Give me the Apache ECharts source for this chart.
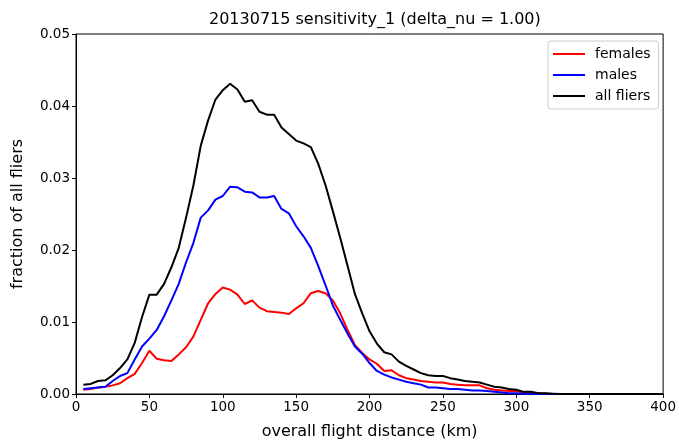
<!DOCTYPE html>
<html lang="en">
<head>
<meta charset="UTF-8">
<title>20130715 sensitivity_1</title>
<script src="https://cdn.jsdelivr.net/npm/echarts@6/dist/echarts.min.js"></script>
<style>
  html, body { margin: 0; padding: 0; background: #fff; }
  #chart { width: 679px; height: 445px; }
</style>
</head>
<body>
<div id="chart"></div>
<script>
// flight distance bins (km)
var distances = [5, 10, 15, 20, 25, 30, 35, 40, 45, 50, 55, 60, 65, 70, 75, 80,
  85, 90, 95, 100, 105, 110, 115, 120, 125, 130, 135, 140, 145, 150, 155, 160,
  165, 170, 175, 180, 185, 190, 195, 200, 205, 210, 215, 220, 225, 230, 235, 240,
  245, 250, 255, 260, 265, 270, 275, 280, 285, 290, 295, 300, 305, 310, 315, 320,
  325, 330, 335, 340, 345, 350, 355, 360, 365, 370, 375, 380, 385, 390, 395, 400];

var females = [0.0006, 0.0007, 0.0009, 0.0010, 0.0012, 0.0015, 0.0022, 0.0028,
  0.0043, 0.0060, 0.0049, 0.0047, 0.0046, 0.0055, 0.0065, 0.0080,
  0.0103, 0.0126, 0.0139, 0.0148, 0.0145, 0.0138, 0.0125, 0.0130,
  0.0120, 0.0115, 0.0114, 0.0113, 0.0111, 0.0119, 0.0126, 0.0140,
  0.0143, 0.0140, 0.0130, 0.0112, 0.0089, 0.0068, 0.0057, 0.0048,
  0.0042, 0.0032, 0.0033, 0.0026, 0.0022, 0.0020, 0.0018, 0.0017,
  0.0016, 0.0016, 0.0014, 0.0013, 0.0012, 0.0012, 0.0012, 0.0008,
  0.0006, 0.0005, 0.0004, 0.0004, 0.0002, 0.0001, 0.0001, 0.00005,
  0, 0, 0, 0, 0, 0, 0, 0, 0, 0, 0, 0, 0, 0, 0, 0];

var males = [0.0007, 0.0008, 0.0009, 0.0010, 0.0018, 0.0025, 0.0029, 0.0048,
  0.0066, 0.0077, 0.0089, 0.0108, 0.0130, 0.0153, 0.0183, 0.0210,
  0.0245, 0.0255, 0.0270, 0.0275, 0.0288, 0.0287, 0.0281, 0.0280,
  0.0273, 0.0273, 0.0275, 0.0257, 0.0251, 0.0233, 0.0219, 0.0203,
  0.0178, 0.0151, 0.0123, 0.0103, 0.0084, 0.0066, 0.0056, 0.0043,
  0.0032, 0.0027, 0.0023, 0.0020, 0.0017, 0.0015, 0.0013, 0.0009,
  0.0009, 0.0008, 0.0007, 0.0007, 0.0006, 0.0005, 0.0005, 0.0004,
  0.0003, 0.0002, 0.0001, 0.0001, 0.00005, 0, 0, 0,
  0, 0, 0, 0, 0, 0, 0, 0, 0, 0, 0, 0, 0, 0, 0, 0];

var allFliers = [0.0013, 0.0014, 0.0018, 0.0019, 0.0026, 0.0036, 0.0048, 0.0071,
  0.0107, 0.0138, 0.0138, 0.0153, 0.0176, 0.0203, 0.0245, 0.0290,
  0.0345, 0.0380, 0.0409, 0.0422, 0.0431, 0.0423, 0.0406, 0.0408,
  0.0392, 0.0388, 0.0388, 0.0370, 0.0361, 0.0352, 0.0348, 0.0343,
  0.0320, 0.0290, 0.0254, 0.0217, 0.0178, 0.0139, 0.0112, 0.0087,
  0.0070, 0.0058, 0.0055, 0.0045, 0.0039, 0.0034, 0.0029, 0.0026,
  0.0025, 0.0025, 0.0022, 0.0020, 0.0018, 0.0017, 0.0016, 0.0013,
  0.0010, 0.0009, 0.0007, 0.0006, 0.0003, 0.0003, 0.0001, 0.0001,
  0.00005, 0, 0, 0, 0, 0, 0, 0, 0, 0, 0, 0, 0, 0, 0, 0];

function pairs(values) {
  return distances.map(function (d, i) { return [d, values[i]]; });
}

var font = 'DejaVu Sans';
var chart = echarts.init(document.getElementById('chart'), null, { renderer: 'canvas' });

function lineSeries(name, color, values) {
  return {
    name: name,
    type: 'line',
    data: pairs(values),
    showSymbol: false,
    symbol: 'none',
    lineStyle: { color: color, width: 2 },
    itemStyle: { color: color },
    animation: false
  };
}

var option = {
  backgroundColor: '#fff',
  animation: false,
  title: {
    text: '20130715 sensitivity_1 (delta_nu = 1.00)',
    left: 204,
    top: 7,
    textStyle: { fontFamily: font, fontSize: 16, fontWeight: 'normal', color: '#000' }
  },
  grid: {
    left: 76, right: 13, top: 34, bottom: 47,
    show: true, borderColor: '#000', borderWidth: 1
  },
  legend: {
    orient: 'vertical',
    left: 548,
    top: 41,
    padding: [6, 8, 6, 5],
    itemGap: 7,
    itemWidth: 32,
    itemHeight: 2,
    icon: 'rect',
    borderColor: '#ccc',
    borderWidth: 1,
    borderRadius: 3,
    textStyle: { fontFamily: font, fontSize: 14, color: '#000', padding: [0, 0, 0, 5] },
    data: ['females', 'males', 'all fliers']
  },
  xAxis: {
    type: 'value',
    min: 0, max: 400, interval: 50,
    name: 'overall flight distance (km)',
    nameLocation: 'middle',
    nameGap: 30,
    nameTextStyle: { fontFamily: font, fontSize: 16, color: '#000' },
    axisLine: { lineStyle: { color: '#000', width: 1 } },
    axisTick: { inside: false, length: 4, lineStyle: { color: '#000' } },
    axisLabel: { fontFamily: font, fontSize: 13.5, color: '#000', margin: 6 },
    splitLine: { show: false }
  },
  yAxis: {
    type: 'value',
    min: 0, max: 0.05, interval: 0.01,
    name: 'fraction of all fliers',
    nameLocation: 'middle',
    nameGap: 50,
    nameTextStyle: { fontFamily: font, fontSize: 16, color: '#000' },
    axisLine: { show: true, lineStyle: { color: '#000', width: 1 } },
    axisTick: { show: true, inside: false, length: 4, lineStyle: { color: '#000' } },
    axisLabel: {
      fontFamily: font, fontSize: 13.5, color: '#000', margin: 6,
      formatter: function (v) { return v.toFixed(2); }
    },
    splitLine: { show: false }
  },
  series: [
    lineSeries('females', '#ff0000', females),
    lineSeries('males', '#0000ff', males),
    lineSeries('all fliers', '#000000', allFliers)
  ]
};

chart.setOption(option);
</script>
</body>
</html>
